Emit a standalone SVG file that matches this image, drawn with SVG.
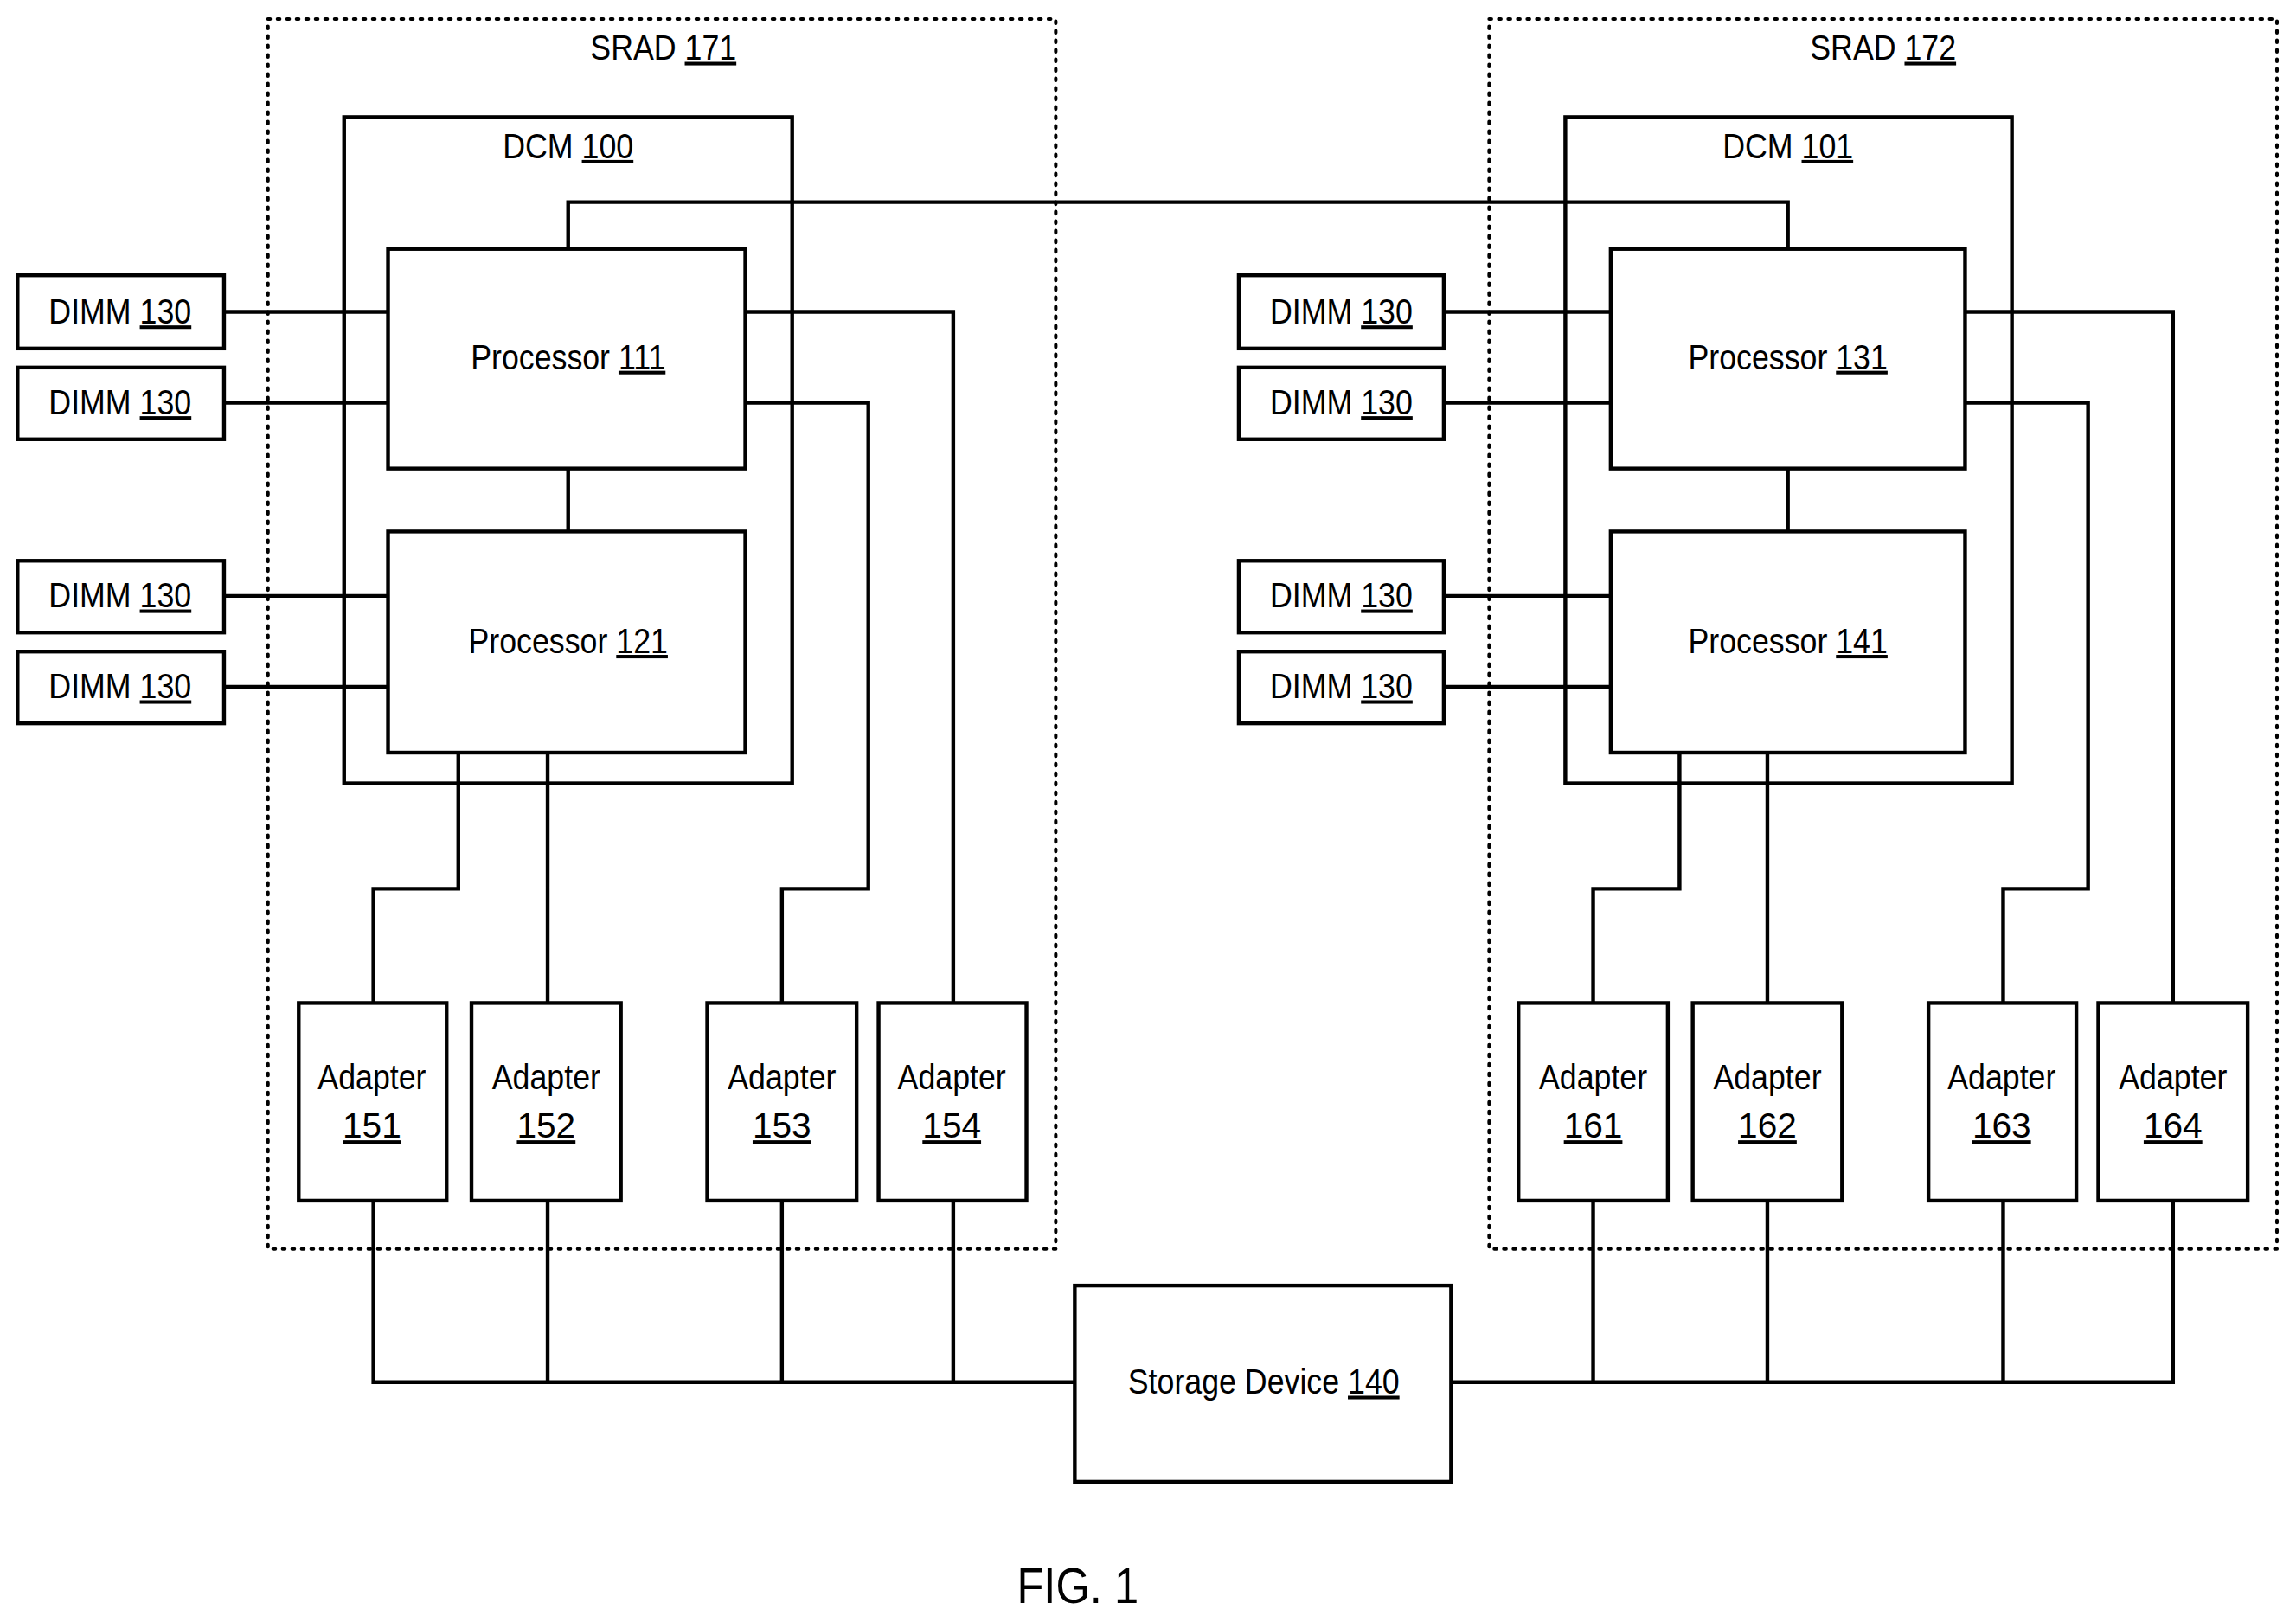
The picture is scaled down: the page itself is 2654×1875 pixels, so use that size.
<svg xmlns="http://www.w3.org/2000/svg" width="2654" height="1875" viewBox="0 0 2654 1875">
<style>
.b{fill:#fff;stroke:#000;stroke-width:2.6}
.d{fill:none;stroke:#000;stroke-width:2.4;stroke-dasharray:1.5 5;stroke-linecap:round}
.c{fill:none;stroke:#000;stroke-width:2.6}
text{font-family:"Liberation Sans",Arial,sans-serif;font-size:24px;text-anchor:middle;fill:#000}
.u{text-decoration:underline}
</style>
<rect width="2654" height="1875" fill="#fff"/>
<g transform="scale(1.6926)">
<g id="srad171"><rect class="d" x="183" y="13" width="538" height="840"/><text x="453" y="41" transform="translate(453 0) scale(0.88 1) translate(-453 0)">SRAD <tspan class="u">171</tspan></text></g>
<g id="srad172"><rect class="d" x="1017" y="13" width="538" height="840"/><text x="1286" y="41" transform="translate(1286 0) scale(0.88 1) translate(-1286 0)">SRAD <tspan class="u">172</tspan></text></g>
<g id="dcm100"><rect class="b" fill="none" style="fill:none" x="235" y="80" width="306" height="455"/><text x="388" y="108" transform="translate(388 0) scale(0.88 1) translate(-388 0)">DCM <tspan class="u">100</tspan></text></g>
<g id="dcm101"><rect class="b" style="fill:none" x="1069" y="80" width="305" height="455"/><text x="1221" y="108" transform="translate(1221 0) scale(0.88 1) translate(-1221 0)">DCM <tspan class="u">101</tspan></text></g>
<g id="connectors">
<path class="c" d="M388 170V138H1221V170"/>
<path class="c" d="M388 320V363M1221 320V363"/>
<path class="c" d="M153 213H265M153 275H265M153 407H265M153 469H265"/>
<path class="c" d="M986 213H1100M986 275H1100M986 407H1100M986 469H1100"/>
<path class="c" d="M509 213H651V685M509 275H593V607H534V685"/>
<path class="c" d="M313 514V607H255V685M374 514V685"/>
<path class="c" d="M1342 213H1484V685M1342 275H1426V607H1368V685"/>
<path class="c" d="M1147 514V607H1088V685M1207 514V685"/>
<path class="c" d="M255 820V944H734M374 820V944M534 820V944M651 820V944"/>
<path class="c" d="M991 944H1484V820M1088 820V944M1207 820V944M1368 820V944"/>
</g>
<g id="p111"><rect class="b" x="265" y="170" width="244" height="150"/><text x="388" y="252" transform="translate(388 0) scale(0.88 1) translate(-388 0)">Processor <tspan class="u">111</tspan></text></g>
<g id="p121"><rect class="b" x="265" y="363" width="244" height="151"/><text x="388" y="446" transform="translate(388 0) scale(0.88 1) translate(-388 0)">Processor <tspan class="u">121</tspan></text></g>
<g id="p131"><rect class="b" x="1100" y="170" width="242" height="150"/><text x="1221" y="252" transform="translate(1221 0) scale(0.88 1) translate(-1221 0)">Processor <tspan class="u">131</tspan></text></g>
<g id="p141"><rect class="b" x="1100" y="363" width="242" height="151"/><text x="1221" y="446" transform="translate(1221 0) scale(0.88 1) translate(-1221 0)">Processor <tspan class="u">141</tspan></text></g>
<g id="dimm1"><rect class="b" x="12" y="188" width="141" height="50"/><text x="82" y="221" transform="translate(82 0) scale(0.88 1) translate(-82 0)">DIMM <tspan class="u">130</tspan></text></g>
<g id="dimm2"><rect class="b" x="12" y="251" width="141" height="49"/><text x="82" y="283" transform="translate(82 0) scale(0.88 1) translate(-82 0)">DIMM <tspan class="u">130</tspan></text></g>
<g id="dimm3"><rect class="b" x="12" y="383" width="141" height="49"/><text x="82" y="415" transform="translate(82 0) scale(0.88 1) translate(-82 0)">DIMM <tspan class="u">130</tspan></text></g>
<g id="dimm4"><rect class="b" x="12" y="445" width="141" height="49"/><text x="82" y="477" transform="translate(82 0) scale(0.88 1) translate(-82 0)">DIMM <tspan class="u">130</tspan></text></g>
<g id="dimm5"><rect class="b" x="846" y="188" width="140" height="50"/><text x="916" y="221" transform="translate(916 0) scale(0.88 1) translate(-916 0)">DIMM <tspan class="u">130</tspan></text></g>
<g id="dimm6"><rect class="b" x="846" y="251" width="140" height="49"/><text x="916" y="283" transform="translate(916 0) scale(0.88 1) translate(-916 0)">DIMM <tspan class="u">130</tspan></text></g>
<g id="dimm7"><rect class="b" x="846" y="383" width="140" height="49"/><text x="916" y="415" transform="translate(916 0) scale(0.88 1) translate(-916 0)">DIMM <tspan class="u">130</tspan></text></g>
<g id="dimm8"><rect class="b" x="846" y="445" width="140" height="49"/><text x="916" y="477" transform="translate(916 0) scale(0.88 1) translate(-916 0)">DIMM <tspan class="u">130</tspan></text></g>
<g id="a151"><rect class="b" x="204" y="685" width="101" height="135"/><text x="254" y="744" transform="translate(254 0) scale(0.88 1) translate(-254 0)">Adapter</text><text x="254" y="777" class="u">151</text></g>
<g id="a152"><rect class="b" x="322" y="685" width="102" height="135"/><text x="373" y="744" transform="translate(373 0) scale(0.88 1) translate(-373 0)">Adapter</text><text x="373" y="777" class="u">152</text></g>
<g id="a153"><rect class="b" x="483" y="685" width="102" height="135"/><text x="534" y="744" transform="translate(534 0) scale(0.88 1) translate(-534 0)">Adapter</text><text x="534" y="777" class="u">153</text></g>
<g id="a154"><rect class="b" x="600" y="685" width="101" height="135"/><text x="650" y="744" transform="translate(650 0) scale(0.88 1) translate(-650 0)">Adapter</text><text x="650" y="777" class="u">154</text></g>
<g id="a161"><rect class="b" x="1037" y="685" width="102" height="135"/><text x="1088" y="744" transform="translate(1088 0) scale(0.88 1) translate(-1088 0)">Adapter</text><text x="1088" y="777" class="u">161</text></g>
<g id="a162"><rect class="b" x="1156" y="685" width="102" height="135"/><text x="1207" y="744" transform="translate(1207 0) scale(0.88 1) translate(-1207 0)">Adapter</text><text x="1207" y="777" class="u">162</text></g>
<g id="a163"><rect class="b" x="1317" y="685" width="101" height="135"/><text x="1367" y="744" transform="translate(1367 0) scale(0.88 1) translate(-1367 0)">Adapter</text><text x="1367" y="777" class="u">163</text></g>
<g id="a164"><rect class="b" x="1433" y="685" width="102" height="135"/><text x="1484" y="744" transform="translate(1484 0) scale(0.88 1) translate(-1484 0)">Adapter</text><text x="1484" y="777" class="u">164</text></g>
<g id="storage"><rect class="b" x="734" y="878" width="257" height="134"/><text x="863" y="952" transform="translate(863 0) scale(0.88 1) translate(-863 0)">Storage Device <tspan class="u">140</tspan></text></g>
<text x="736" y="1095" style="font-size:34px" transform="translate(736 0) scale(0.88 1) translate(-736 0)">FIG. 1</text>
</g>
</svg>
